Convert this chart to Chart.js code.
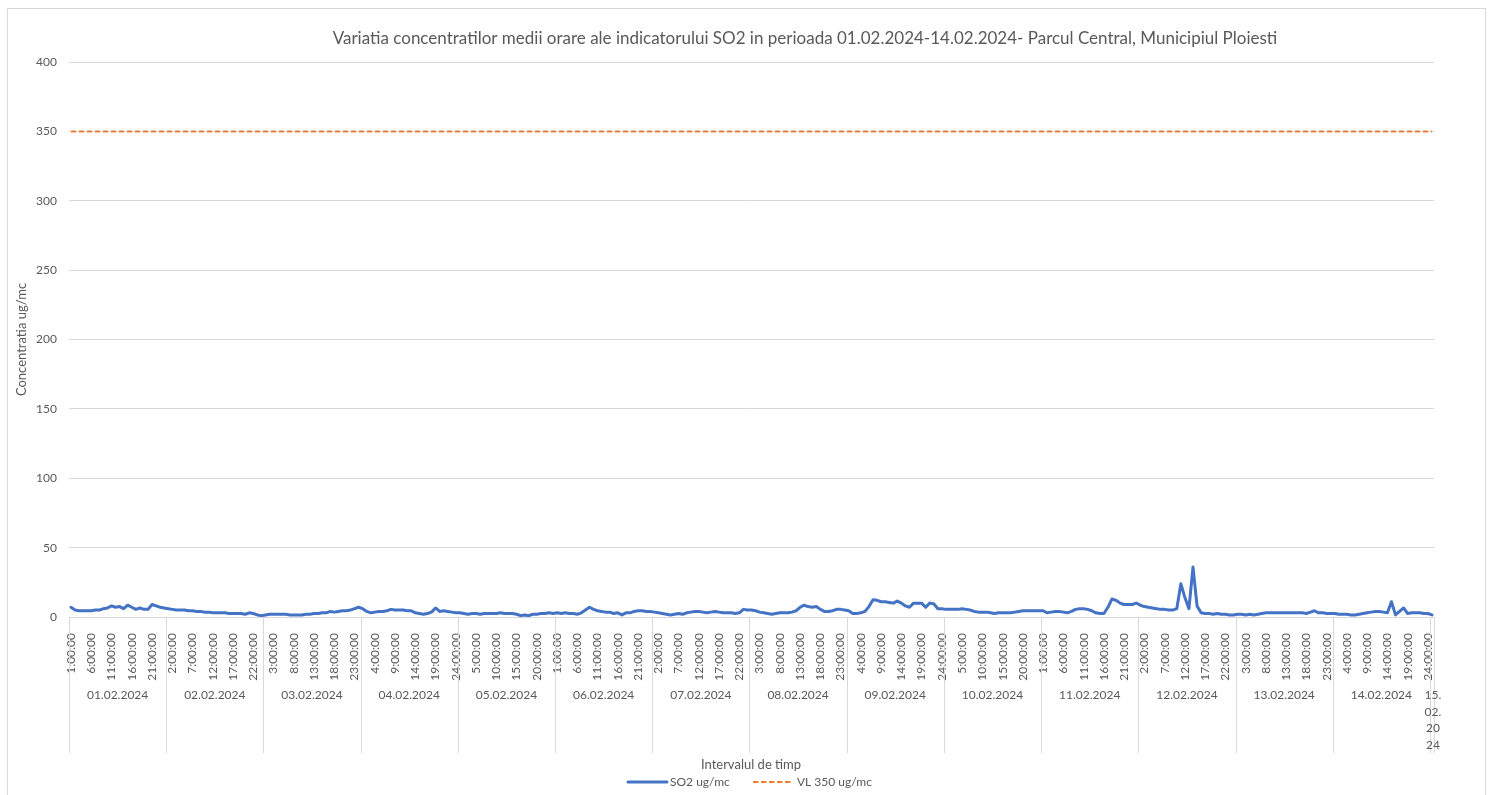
<!DOCTYPE html>
<html>
<head>
<meta charset="utf-8">
<title>SO2 Parcul Central Ploiesti</title>
<script src="https://cdn.jsdelivr.net/npm/chart.js@4.4.1/dist/chart.umd.min.js"></script>
<style>
  html, body { margin: 0; padding: 0; background: #fff; }
  #wrap { width: 1492px; height: 795px; }
</style>
</head>
<body>
<div id="wrap"><canvas id="so2Chart" width="1492" height="795"></canvas></div>
<script>
// hour labels of each day and the day groups under them
const hours = ['1:00:00', '2:00:00', '3:00:00', '4:00:00', '5:00:00', '6:00:00', '7:00:00', '8:00:00',
  '9:00:00', '10:00:00', '11:00:00', '12:00:00', '13:00:00', '14:00:00', '15:00:00', '16:00:00',
  '17:00:00', '18:00:00', '19:00:00', '20:00:00', '21:00:00', '22:00:00', '23:00:00', '24:00:00']
const days = ['01.02.2024', '02.02.2024', '03.02.2024', '04.02.2024', '05.02.2024', '06.02.2024', '07.02.2024',
  '08.02.2024', '09.02.2024', '10.02.2024', '11.02.2024', '12.02.2024', '13.02.2024', '14.02.2024', '15.02.2024']

// SO2 hourly means (ug/mc), one array per day
const so2Day01 = [7, 5, 4.5, 4.5, 4.5, 4.5, 5, 5, 6, 6.5, 8, 7, 7.5, 6, 8.5, 7, 5.5, 6.5, 5.5, 5.5, 9, 8, 7, 6.5]
const so2Day02 = [6, 5.5, 5, 5, 5, 4.5, 4.5, 4, 4, 3.5, 3.5, 3, 3, 3, 3, 2.5, 2.5, 2.5, 2.5, 2, 3, 2.5, 1.5, 1]
const so2Day03 = [1.5, 2, 2, 2, 2, 2, 1.5, 1.5, 1.5, 1.5, 2, 2, 2.5, 2.5, 3, 3, 4, 3.5, 4, 4.5, 4.5, 5, 6, 7]
const so2Day04 = [6, 4, 3, 3.5, 4, 4, 4.5, 5.5, 5, 5, 5, 4.5, 4.5, 3, 2.5, 2, 2.5, 3.5, 6.5, 4, 4.5, 4, 3.5, 3]
const so2Day05 = [3, 2.5, 2, 2.5, 2.5, 2, 2.5, 2.5, 2.5, 2.5, 3, 2.5, 2.5, 2.5, 2, 1, 1.5, 1, 2, 2, 2.5, 2.5, 3, 2.5]
const so2Day06 = [3, 2.5, 3, 2.5, 2.5, 2, 3, 5, 7, 5.5, 4.5, 4, 3.5, 3.5, 2.5, 3, 1.5, 3, 3, 4, 4.5, 4.5, 4, 4]
const so2Day07 = [3.5, 3, 2.5, 2, 1.5, 2, 2.5, 2, 3, 3.5, 4, 4, 3.5, 3, 3.5, 4, 3.5, 3, 3, 3, 2.5, 3, 5.5, 5]
const so2Day08 = [5, 4.5, 3.5, 3, 2.5, 2, 2.5, 3, 3, 3, 3.5, 4.5, 7, 8.5, 7.5, 7, 7.5, 5.5, 4, 4, 4.5, 5.5, 5.5, 5]
const so2Day09 = [4.5, 2.5, 2.5, 3, 4, 7.5, 12.5, 12, 11, 11, 10.5, 10, 11.5, 10, 8, 7, 10, 10, 10, 7, 10, 9.5, 6, 6]
const so2Day10 = [5.5, 5.5, 5.5, 5.5, 6, 5.5, 5, 4, 3.5, 3.5, 3.5, 3, 2.5, 3, 3, 3, 3, 3.5, 4, 4.5, 4.5, 4.5, 4.5, 4.5]
const so2Day11 = [4.5, 3, 3.5, 4, 4, 3.5, 3, 4, 5.5, 6, 6, 5.5, 4.5, 3, 2.5, 2.5, 7, 13, 12, 10, 9, 9, 9, 10]
const so2Day12 = [8.5, 7.5, 7, 6.5, 6, 5.5, 5.5, 5, 5, 6, 24, 14, 6, 36, 8, 3, 2.5, 2.5, 2, 2.5, 2, 2, 1.5, 1.5]
const so2Day13 = [2, 2, 1.5, 2, 1.5, 2, 2.5, 3, 3, 3, 3, 3, 3, 3, 3, 3, 3, 2.5, 3.5, 4.5, 3, 3, 2.5, 2.5]
const so2Day14 = [2.5, 2, 2, 2, 1.5, 1.5, 2, 2.5, 3, 3.5, 4, 4, 3.5, 3, 11, 1.5, 4, 6.5, 2.5, 3, 3, 3, 2.5, 2.5]
const so2Day15 = [1.5]

// limit value
const vlLimit = 350

const so2ByDay = [so2Day01, so2Day02, so2Day03, so2Day04, so2Day05, so2Day06, so2Day07,
  so2Day08, so2Day09, so2Day10, so2Day11, so2Day12, so2Day13, so2Day14, so2Day15]

const labels = []
const so2Values = []
const groupSizes = []
so2ByDay.forEach((vals) => {
  vals.forEach((v, h) => {
    labels.push(hours[h])
    so2Values.push(v)
  })
  groupSizes.push(vals.length)
})
const vlValues = labels.map(() => vlLimit)

const FONT = 'Lato, "Open Sans", sans-serif'
const TEXT = '#595959'
const GRID = '#d9d9d9'
const TITLE = 'Variatia concentratilor medii orare ale indicatorului SO2 in perioada 01.02.2024-14.02.2024- Parcul Central, Municipiul Ploiesti'

function wrapChars(ctx, text, maxWidth) {
  const lines = []
  let cur = ''
  for (const ch of text) {
    if (cur && ctx.measureText(cur + ch).width > maxWidth) {
      lines.push(cur)
      cur = ch
    } else {
      cur += ch
    }
  }
  if (cur) lines.push(cur)
  return lines
}

const decorPlugin = {
  id: 'decor',
  afterDraw(chart) {
    const { ctx, chartArea } = chart
    const x = chart.scales.x
    ctx.save()

    // outer frame
    ctx.strokeStyle = GRID
    ctx.lineWidth = 1
    ctx.strokeRect(7.5, 8.5, 1478, 800)

    // title
    ctx.fillStyle = TEXT
    ctx.textAlign = 'center'
    ctx.textBaseline = 'middle'
    ctx.font = '17px ' + FONT
    ctx.fillText(TITLE, 805, 39)

    // day group separators and labels
    const half = (x.getPixelForValue(1) - x.getPixelForValue(0)) / 2
    const bounds = [chartArea.left]
    let idx = 0
    groupSizes.forEach((n) => {
      idx += n
      bounds.push(idx >= labels.length ? chartArea.right : x.getPixelForValue(idx - 1) + half)
    })
    ctx.strokeStyle = GRID
    ctx.beginPath()
    bounds.forEach((bx) => {
      const px = Math.round(bx) + 0.5
      ctx.moveTo(px, chartArea.bottom)
      ctx.lineTo(px, 753)
    })
    ctx.stroke()

    ctx.font = '12px ' + FONT
    ctx.fillStyle = TEXT
    days.forEach((d, i) => {
      const cx = (bounds[i] + bounds[i + 1]) / 2
      const w = bounds[i + 1] - bounds[i]
      if (ctx.measureText(d).width < w - 4) {
        ctx.fillText(d, cx, 695)
      } else {
        wrapChars(ctx, d, 18).forEach((line, j) => {
          ctx.fillText(line, cx + 1, 695 + j * 16.7)
        })
      }
    })

    // axis titles
    ctx.font = '13px ' + FONT
    ctx.fillText('Intervalul de timp', 751, 765)
    ctx.save()
    ctx.translate(22, (chartArea.top + chartArea.bottom) / 2)
    ctx.rotate(-Math.PI / 2)
    ctx.fillText('Concentratia ug/mc', 0, 0)
    ctx.restore()

    // legend
    ctx.font = '12px ' + FONT
    ctx.textAlign = 'left'
    ctx.lineCap = 'round'
    ctx.strokeStyle = '#4472C4'
    ctx.lineWidth = 3
    ctx.beginPath()
    ctx.moveTo(628, 782)
    ctx.lineTo(667, 782)
    ctx.stroke()
    ctx.fillText('SO2 ug/mc', 670, 782)

    ctx.lineCap = 'butt'
    ctx.strokeStyle = '#ED7D31'
    ctx.lineWidth = 2
    ctx.setLineDash([5.5, 2.5])
    ctx.beginPath()
    ctx.moveTo(753, 782)
    ctx.lineTo(793, 782)
    ctx.stroke()
    ctx.setLineDash([])
    ctx.fillText('VL 350 ug/mc', 797, 782)

    ctx.restore()
  }
}

new Chart(document.getElementById('so2Chart'), {
  type: 'line',
  data: {
    labels: labels,
    datasets: [
      {
        label: 'SO2 ug/mc',
        data: so2Values,
        borderColor: '#4472C4',
        backgroundColor: '#4472C4',
        borderWidth: 3,
        borderJoinStyle: 'round',
        borderCapStyle: 'round',
        pointRadius: 0,
        tension: 0
      },
      {
        label: 'VL 350 ug/mc',
        data: vlValues,
        borderColor: '#ED7D31',
        backgroundColor: '#ED7D31',
        borderWidth: 2,
        borderDash: [5, 3],
        pointRadius: 0,
        tension: 0
      }
    ]
  },
  options: {
    responsive: false,
    animation: false,
    layout: {
      padding: { left: 0, top: 62, right: 58, bottom: 0 }
    },
    plugins: {
      legend: { display: false },
      tooltip: { enabled: false }
    },
    scales: {
      x: {
        type: 'category',
        offset: true,
        afterFit: function(scale) {
          scale.height = 178
        },
        grid: {
          display: false
        },
        border: {
          color: GRID
        },
        ticks: {
          autoSkip: false,
          maxRotation: 90,
          minRotation: 90,
          padding: 8,
          color: TEXT,
          font: { family: FONT, size: 12 },
          callback: function(value, index) {
            return index % 5 === 0 ? labels[index] : ''
          }
        }
      },
      y: {
        min: 0,
        max: 400,
        afterFit: function(scale) {
          scale.width = 69
        },
        grid: {
          color: GRID,
          drawTicks: false
        },
        border: {
          display: false
        },
        ticks: {
          stepSize: 50,
          padding: 12,
          color: TEXT,
          font: { family: FONT, size: 12 }
        }
      }
    }
  },
  plugins: [decorPlugin]
})
</script>
</body>
</html>
